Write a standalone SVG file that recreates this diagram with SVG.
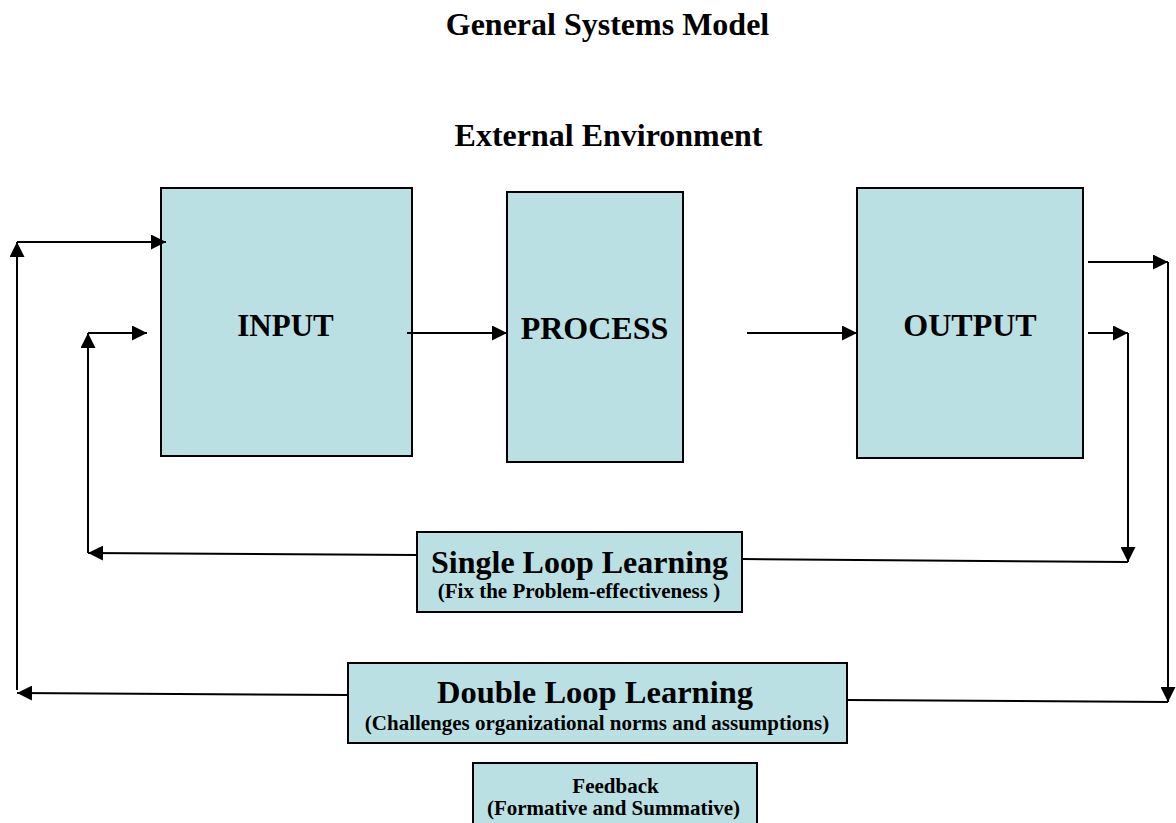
<svg xmlns="http://www.w3.org/2000/svg" width="1176" height="823" viewBox="0 0 1176 823">
<defs>
<style>
.box{fill:#BBE0E3;stroke:#000;stroke-width:2}
.t{font-family:"Liberation Serif","Times New Roman",serif;font-weight:bold;fill:#000;text-anchor:middle}
.c{fill:none;stroke:#000;stroke-width:2}
</style>
<marker id="ah" viewBox="0 0 10 10" refX="10" refY="5" markerWidth="15" markerHeight="15" markerUnits="userSpaceOnUse" orient="auto">
<path d="M0,0 L10,5 L0,10 Z" fill="#000"/>
</marker>
</defs>
<rect width="1176" height="823" fill="#fff"/>
<text class="t" x="607.5" y="35" font-size="32">General Systems Model</text>
<text class="t" x="608.5" y="146" font-size="32">External Environment</text>
<g id="input"><rect class="box" x="161" y="188" width="251" height="268"/><text class="t" x="285.5" y="336" font-size="31">INPUT</text></g>
<g id="process"><rect class="box" x="507" y="192" width="176" height="270"/><text class="t" x="594.5" y="339" font-size="32">PROCESS</text></g>
<g id="output"><rect class="box" x="857" y="188" width="226" height="270"/><text class="t" x="970" y="336" font-size="32">OUTPUT</text></g>
<g id="single"><rect class="box" x="417" y="532" width="325" height="80"/><text class="t" x="579.5" y="573" font-size="32">Single Loop Learning</text><text class="t" x="579" y="598" font-size="21">(Fix the Problem-effectiveness )</text></g>
<g id="double"><rect class="box" x="348" y="663" width="499" height="80"/><text class="t" x="595" y="703" font-size="32.5">Double Loop Learning</text><text class="t" x="597" y="730" font-size="21">(Challenges organizational norms and assumptions)</text></g>
<g id="feedback"><rect class="box" x="473" y="763" width="284" height="70"/><text class="t" x="615.5" y="793" font-size="21">Feedback</text><text class="t" x="613.5" y="815" font-size="21">(Formative and Summative)</text></g>
<g id="connectors">
<path class="c" d="M407,333 H507" marker-end="url(#ah)"/>
<path class="c" d="M747,333 H857" marker-end="url(#ah)"/>
<path class="c" d="M17,690 V242" marker-end="url(#ah)"/>
<path class="c" d="M17,242 H166" marker-end="url(#ah)"/>
<path class="c" d="M88,553 V333" marker-end="url(#ah)"/>
<path class="c" d="M88,333 H147" marker-end="url(#ah)"/>
<path class="c" d="M1088,262 H1168" marker-end="url(#ah)"/>
<path class="c" d="M1168,262 V702" marker-end="url(#ah)"/>
<path class="c" d="M1088,333 H1128" marker-end="url(#ah)"/>
<path class="c" d="M1128,333 V562" marker-end="url(#ah)"/>
<path class="c" d="M417,555 L88,553" marker-end="url(#ah)"/>
<path class="c" d="M742,559 L1128,562"/>
<path class="c" d="M348,695 L17,693" marker-end="url(#ah)"/>
<path class="c" d="M847,700 L1168,702"/>
</g>
</svg>
